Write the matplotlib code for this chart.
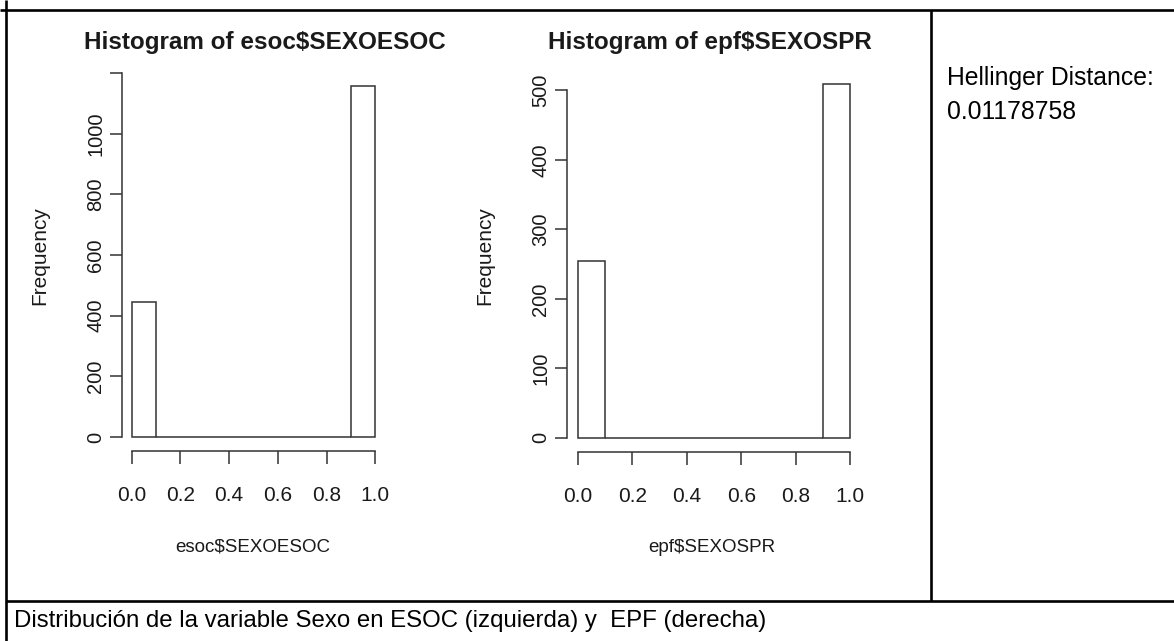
import numpy as np
import matplotlib
matplotlib.use("Agg")
import matplotlib.pyplot as plt
from matplotlib.lines import Line2D

plt.rcParams["font.family"] = ["Liberation Sans", "DejaVu Sans"]

# histogram data (10 bins of width 0.1 on [0, 1])
bin_edges = np.linspace(0, 1, 11)
esoc_counts = [446, 0, 0, 0, 0, 0, 0, 0, 0, 1157]
epf_counts = [254, 0, 0, 0, 0, 0, 0, 0, 0, 509]

esoc_yticks = [0, 200, 400, 600, 800, 1000, 1200]
esoc_ylabels = ["0", "200", "400", "600", "800", "1000", ""]
epf_yticks = [0, 100, 200, 300, 400, 500]
epf_ylabels = ["0", "100", "200", "300", "400", "500"]
xticks = [0.0, 0.2, 0.4, 0.6, 0.8, 1.0]
xlabels = ["0.0", "0.2", "0.4", "0.6", "0.8", "1.0"]

titles = ["Histogram of esoc$SEXOESOC", "Histogram of epf$SEXOSPR"]
xnames = ["esoc$SEXOESOC", "epf$SEXOSPR"]
distance_lines = ["Hellinger Distance:", "0.01178758"]
caption = "Distribución de la variable Sexo en ESOC (izquierda) y  EPF (derecha)"

W, H = 1174, 641
fig = plt.figure(figsize=(W / 100, H / 100), dpi=100)
fig.patch.set_facecolor("white")

R_COL = "#333333"
TXT = "#1a1a1a"


def px_axes(x0, y0, x1, y1):
    return fig.add_axes([x0 / W, 1 - y1 / H, (x1 - x0) / W, (y1 - y0) / H])


def fig_text(x, y, s, **kw):
    fig.text(x / W, 1 - y / H, s, **kw)


def r_hist(ax, counts, yticks, ylabels):
    ax.bar(bin_edges[:-1], counts, width=0.1, align="edge",
           facecolor="white", edgecolor=R_COL, linewidth=1.1)
    top = max(counts)
    ax.set_xlim(-0.04, 1.04)
    ax.set_ylim(-0.04 * top, 1.04 * top)
    for side in ["top", "right"]:
        ax.spines[side].set_visible(False)
    ax.spines["left"].set_bounds(0, yticks[-1])
    ax.spines["bottom"].set_bounds(0, 1)
    for side in ["left", "bottom"]:
        ax.spines[side].set_color(R_COL)
        ax.spines[side].set_linewidth(1.1)
    ax.set_xticks(xticks)
    ax.set_xticklabels(xlabels, fontsize=15)
    ax.set_yticks(yticks)
    ax.set_yticklabels(ylabels, rotation=90, va="center", fontsize=14.5)
    ax.tick_params(axis="both", direction="out", length=9, width=1.1,
                   color=R_COL, labelcolor=TXT)
    ax.tick_params(axis="x", pad=16)
    ax.tick_params(axis="y", pad=3)
    ax.patch.set_alpha(0)


# left histogram
ax1 = px_axes(122, 72, 385, 451)
r_hist(ax1, esoc_counts, esoc_yticks, esoc_ylabels)
fig_text(265, 43, titles[0], ha="center", va="center", fontsize=17.5,
         fontweight="bold", color=TXT)
fig_text(253, 547, xnames[0], ha="center", va="center", fontsize=13.5,
         color=TXT)
fig_text(40, 256, "Frequency", ha="center", va="center", rotation=90,
         fontsize=15, color=TXT)

# right histogram
ax2 = px_axes(567, 70, 861, 452)
r_hist(ax2, epf_counts, epf_yticks, epf_ylabels)
fig_text(710, 43, titles[1], ha="center", va="center", fontsize=17.5,
         fontweight="bold", color=TXT)
fig_text(712, 547, xnames[1], ha="center", va="center", fontsize=13.5,
         color=TXT)
fig_text(485, 256, "Frequency", ha="center", va="center", rotation=90,
         fontsize=15, color=TXT)

# table borders
border = dict(color="black", linewidth=1.9, solid_capstyle="butt")
fig.add_artist(Line2D([0, 1], [1 - 10 / H] * 2, transform=fig.transFigure, **border))
fig.add_artist(Line2D([6 / W] * 2, [0, 1], transform=fig.transFigure, **border))
fig.add_artist(Line2D([931 / W] * 2, [1 - 10 / H, 1 - 601 / H], transform=fig.transFigure, **border))
fig.add_artist(Line2D([6 / W, 1], [1 - 601 / H] * 2, transform=fig.transFigure, **border))

fig_text(947, 78, distance_lines[0], ha="left", va="center", fontsize=17.8,
         color="black")
fig_text(947, 112, distance_lines[1], ha="left", va="center", fontsize=17.8,
         color="black")
fig_text(14, 621, caption, ha="left", va="center", fontsize=17.3, color="black")

fig.savefig("out.png", dpi=100)
